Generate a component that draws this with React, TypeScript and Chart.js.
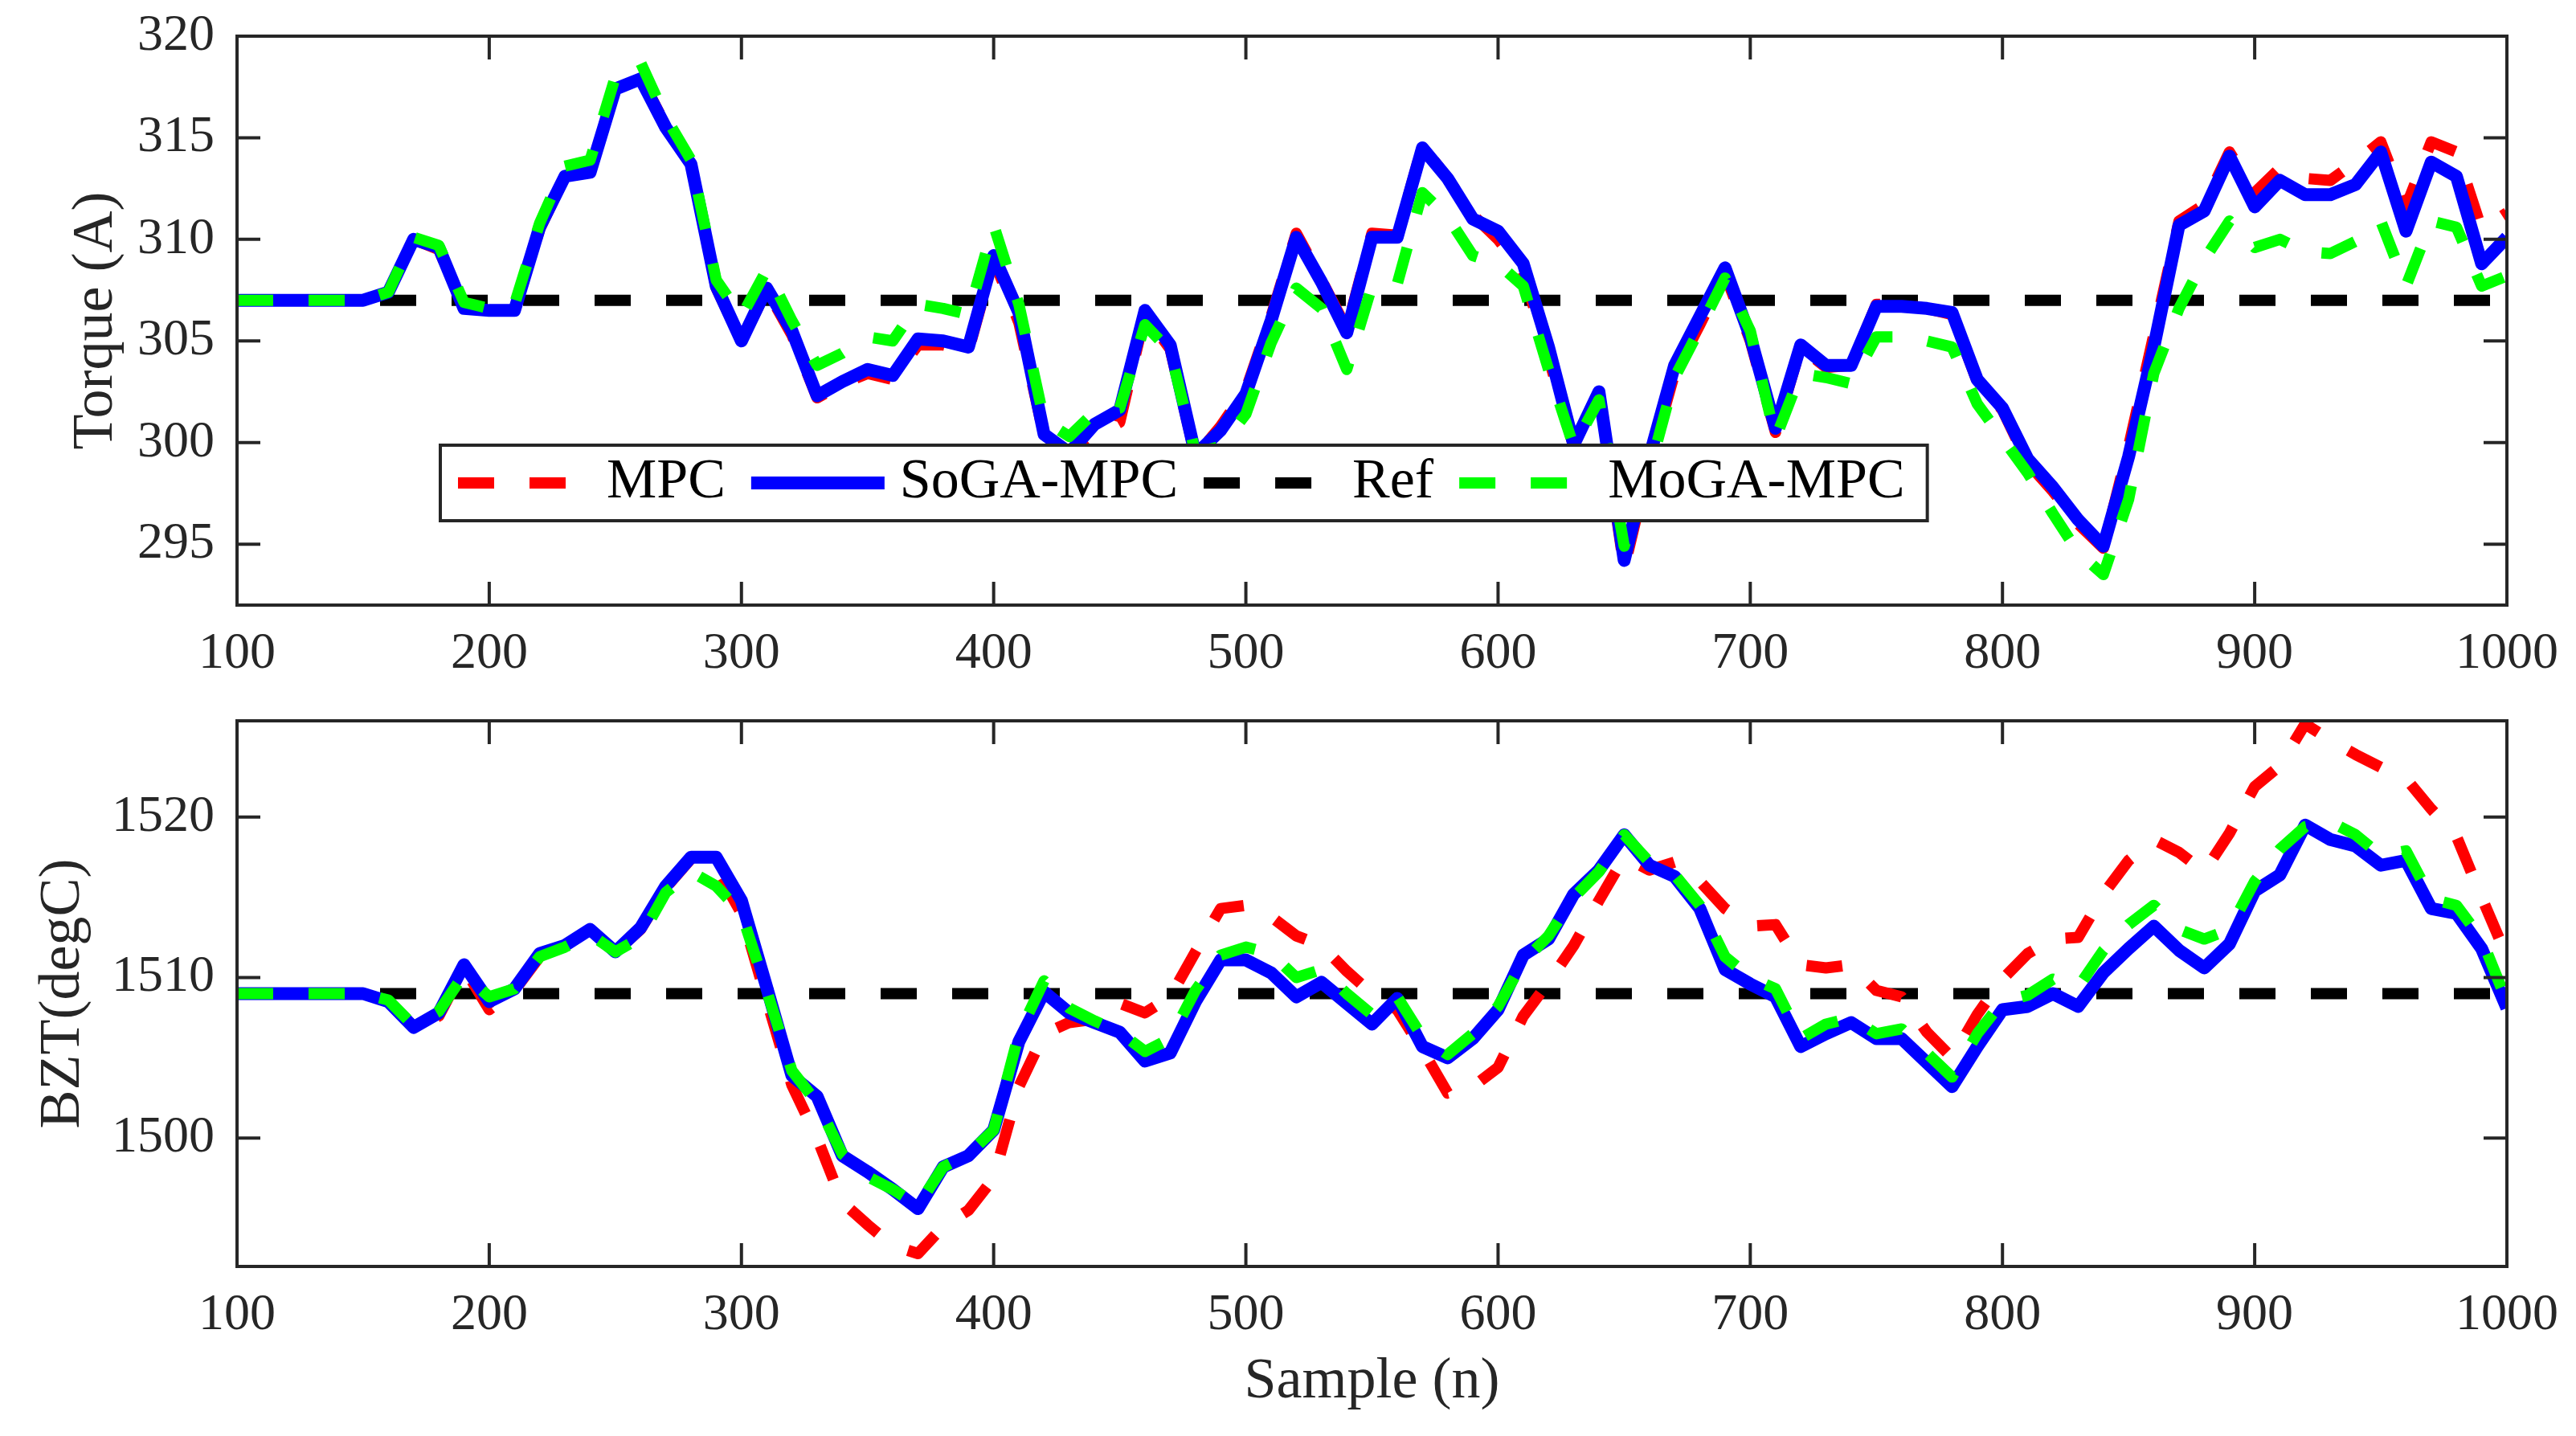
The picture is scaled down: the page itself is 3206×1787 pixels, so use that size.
import { useEffect, useRef } from "react";
import { Chart, registerables } from "chart.js";

Chart.register(...registerables);

// ---- data ----
const samples = [
  100, 110, 120, 130, 140, 150, 160, 170, 180, 190,
  200, 210, 220, 230, 240, 250, 260, 270, 280, 290,
  300, 310, 320, 330, 340, 350, 360, 370, 380, 390,
  400, 410, 420, 430, 440, 450, 460, 470, 480, 490,
  500, 510, 520, 530, 540, 550, 560, 570, 580, 590,
  600, 610, 620, 630, 640, 650, 660, 670, 680, 690,
  700, 710, 720, 730, 740, 750, 760, 770, 780, 790,
  800, 810, 820, 830, 840, 850, 860, 870, 880, 890,
  900, 910, 920, 930, 940, 950, 960, 970, 980, 990,
  1000,
];
const xTicks = [100, 200, 300, 400, 500, 600, 700, 800, 900, 1000];
const torqueTicks = [295, 300, 305, 310, 315, 320];
const bztTicks = [1500, 1510, 1520];

const refSamples = [100, 1000];
const torqueRef = [307, 307];
const bztRef = [1509, 1509];

const torqueMPC = [
  307, 307, 307, 307, 307, 307, 307.4, 310.0, 309.5, 306.6,
  306.5, 306.5, 310.5, 313.1, 313.3, 317.5, 318.0, 315.6, 313.7, 307.6,
  305.0, 307.5, 305.3, 302.2, 302.9, 303.4, 303.1, 304.8, 304.8, 304.5,
  309.0, 305.9, 300.3, 299.4, 300.3, 301.0, 306.3, 304.6, 299.3, 300.8,
  302.6, 306.2, 310.3, 308.0, 305.6, 310.3, 310.2, 314.6, 313.0, 311.2,
  310.0, 308.4, 304.2, 299.8, 302.3, 293.8, 299.0, 303.4, 305.8, 308.3,
  305.0, 300.5, 304.7, 303.7, 303.8, 306.8, 306.8, 306.6, 306.3, 303.0,
  301.6, 299.0, 297.6, 296.0, 294.8, 299.8, 305.3, 310.9, 311.7, 314.3,
  312.3, 313.5, 313.0, 312.9, 313.8, 314.8, 311.6, 314.8, 314.3, 310.5,
  311.3,
];
const torqueSoGA = [
  307, 307, 307, 307, 307, 307, 307.4, 310.0, 309.6, 306.6,
  306.5, 306.5, 310.6, 313.1, 313.3, 317.4, 317.9, 315.5, 313.7, 307.7,
  305.0, 307.6, 305.5, 302.3, 303.0, 303.6, 303.3, 305.1, 305.0, 304.7,
  309.2, 306.4, 300.4, 299.5, 300.9, 301.6, 306.5, 304.8, 299.4, 300.6,
  302.4, 306.0, 310.1, 307.9, 305.4, 310.1, 310.1, 314.5, 313.0, 311.0,
  310.4, 308.8, 304.7, 299.9, 302.5, 294.2, 299.3, 303.8, 306.2, 308.6,
  305.2, 300.7, 304.8, 303.8, 303.8, 306.7, 306.7, 306.6, 306.4, 303.1,
  301.7, 299.2, 297.8, 296.2, 294.9, 299.3, 304.7, 310.7, 311.4, 314.1,
  311.6, 312.9, 312.2, 312.2, 312.7, 314.3, 310.4, 313.8, 313.1, 308.8,
  310.1,
];
const torqueMoGA = [
  307, 307, 307, 307, 307, 307, 307.4, 310.1, 309.7, 306.9,
  306.6, 306.8, 310.8, 313.6, 313.9, 318.0, 318.7, 316.0, 313.9, 308.0,
  306.2, 308.5, 306.0, 303.8, 304.4, 305.2, 305.0, 306.8, 306.6, 306.3,
  310.7, 306.8, 301.1, 300.3, 301.5, 301.7, 305.8, 304.5, 299.5, 299.8,
  301.4, 304.9, 307.6, 306.6, 303.6, 307.7, 307.8, 312.3, 311.1, 309.2,
  308.8, 307.7, 303.6, 299.8, 302.1, 294.9, 298.6, 303.2, 305.6, 308.1,
  305.5, 300.2, 303.4, 303.2, 302.9, 305.2, 305.2, 305.0, 304.7, 301.9,
  300.2, 298.5, 296.5, 294.6, 293.5, 297.2, 303.4, 306.6, 309.0, 310.9,
  309.6, 310.0, 309.4, 309.3, 309.9, 310.9, 307.7, 310.9, 310.6, 307.7,
  308.2,
];

const bztMPC = [
  1509, 1509, 1509, 1509, 1509, 1509, 1508.5, 1506.9, 1507.6, 1510.6,
  1508.0, 1509.2, 1511.3, 1512.0, 1513.0, 1511.6, 1513.0, 1515.6, 1517.4, 1516.8,
  1514.0, 1508.6, 1503.3, 1500.0, 1496.0, 1494.6, 1493.3, 1492.8, 1494.5, 1495.5,
  1497.5, 1503.2, 1506.5, 1507.2, 1507.4, 1508.4, 1507.8, 1508.8, 1511.6, 1514.3,
  1514.5, 1513.8, 1512.6, 1512.0, 1510.4, 1509.0, 1508.0, 1505.5, 1502.8, 1503.2,
  1504.4, 1507.6, 1509.7, 1512.0, 1514.8, 1517.5, 1516.7, 1517.2, 1516.0, 1514.3,
  1513.2, 1513.3, 1510.8, 1510.6, 1510.8, 1509.2, 1508.8, 1506.6, 1505.0, 1507.7,
  1509.9, 1511.5, 1512.4, 1512.5, 1515.2, 1517.3, 1518.6, 1517.8, 1516.6, 1519.0,
  1521.9, 1523.2, 1525.8, 1524.8, 1523.9, 1523.1, 1522.4, 1520.5, 1518.8, 1515.0,
  1511.3,
];
const bztSoGA = [
  1509, 1509, 1509, 1509, 1509, 1509, 1508.5, 1506.9, 1507.8, 1510.8,
  1508.5, 1509.3, 1511.5, 1512.0, 1513.0, 1511.6, 1513.1, 1515.7, 1517.5, 1517.5,
  1514.8, 1509.4, 1503.9, 1502.6, 1498.9, 1497.9, 1496.8, 1495.6, 1498.2, 1498.9,
  1500.5, 1506.0, 1509.1, 1507.8, 1507.2, 1506.6, 1504.8, 1505.3, 1508.5, 1511.1,
  1511.1, 1510.3, 1508.8, 1509.7, 1508.4, 1507.1, 1508.7, 1505.7, 1505.0, 1506.2,
  1508.0, 1511.4, 1512.4, 1515.2, 1516.7, 1518.9, 1517.0, 1516.3, 1514.3, 1510.5,
  1509.6, 1508.8, 1505.7, 1506.5, 1507.2, 1506.2, 1506.2, 1504.7, 1503.2, 1505.7,
  1508.0, 1508.2, 1509.0, 1508.2, 1510.3, 1511.8, 1513.2, 1511.7, 1510.6, 1512.1,
  1515.4, 1516.4, 1519.5, 1518.6, 1518.2, 1517.0, 1517.3, 1514.3, 1514.0, 1511.8,
  1508.1,
];
const bztMoGA = [
  1509, 1509, 1509, 1509, 1509, 1509, 1508.6, 1507.0, 1507.9, 1510.2,
  1508.8, 1509.3, 1511.3, 1511.9, 1512.7, 1511.6, 1512.5, 1515.3, 1516.6, 1515.7,
  1514.0, 1509.2, 1504.2, 1502.2, 1499.0, 1497.6, 1496.8, 1495.8, 1498.2, 1499.0,
  1500.5, 1506.5, 1509.8, 1508.1, 1507.3, 1506.6, 1505.4, 1506.2, 1509.2, 1511.4,
  1511.9, 1511.5, 1510.0, 1510.5, 1509.0, 1507.7, 1508.8, 1506.3, 1505.2, 1506.5,
  1508.2, 1511.0, 1512.6, 1515.0, 1516.6, 1518.9, 1517.2, 1516.4, 1514.5, 1511.3,
  1510.0, 1509.3, 1506.2, 1507.1, 1507.5, 1506.5, 1506.8, 1505.3, 1503.8, 1506.5,
  1508.5, 1508.9, 1509.9, 1509.4, 1511.7, 1513.3, 1514.5, 1513.0, 1512.4, 1513.0,
  1516.0, 1518.0, 1519.4, 1519.7, 1518.9, 1517.6, 1517.9, 1514.9, 1514.5, 1512.4,
  1508.5,
];

const legendOrder = ["MPC", "SoGA-MPC", "Ref", "MoGA-MPC"];

// ---- styling ----
const W = 3206;
const TOP_H = 850;
const BOTTOM_H = 937;
const INK = "#262626";
const SERIF = '"Liberation Serif", "Times New Roman", serif';
const TICK_LEN = 29;

function lineSet(
  label: string,
  xs: number[],
  ys: number[],
  color: string,
  dashed: boolean,
  width: number
) {
  return {
    label,
    data: ys.map((y, i) => ({ x: xs[i], y })),
    borderColor: color,
    backgroundColor: color,
    borderWidth: width,
    borderDash: dashed ? [45, 44] : [],
    borderCapStyle: "butt" as const,
    borderJoinStyle: "round" as const,
    pointRadius: 0,
    pointHoverRadius: 0,
    tension: 0,
    fill: false,
  };
}

// first dataset is drawn on top
function datasets(mpc: number[], soga: number[], moga: number[], ref: number[]) {
  return [
    lineSet("MoGA-MPC", samples, moga, "#00FF00", true, 14),
    lineSet("SoGA-MPC", samples, soga, "#0000FF", false, 16),
    lineSet("MPC", samples, mpc, "#FF0000", true, 14),
    lineSet("Ref", refSamples, ref, "#000000", true, 14),
  ];
}

// box around the plot with inward ticks on all four sides
const framePlugin = {
  id: "frame",
  afterDatasetsDraw(chart: any) {
    const { ctx, chartArea: a, scales } = chart;
    ctx.save();
    ctx.setLineDash([]);
    ctx.strokeStyle = INK;
    ctx.lineWidth = 4;
    ctx.beginPath();
    for (const t of scales.x.ticks) {
      const px = scales.x.getPixelForValue(t.value);
      ctx.moveTo(px, a.bottom);
      ctx.lineTo(px, a.bottom - TICK_LEN);
      ctx.moveTo(px, a.top);
      ctx.lineTo(px, a.top + TICK_LEN);
    }
    for (const t of scales.y.ticks) {
      const py = scales.y.getPixelForValue(t.value);
      ctx.moveTo(a.left, py);
      ctx.lineTo(a.left + TICK_LEN, py);
      ctx.moveTo(a.right, py);
      ctx.lineTo(a.right - TICK_LEN, py);
    }
    ctx.stroke();
    ctx.strokeRect(a.left, a.top, a.right - a.left, a.bottom - a.top);
    ctx.restore();
  },
};

// boxed horizontal legend sitting inside the top plot
const boxLegendPlugin = {
  id: "boxLegend",
  afterDraw(chart: any) {
    const { ctx, chartArea: a } = chart;
    const left = a.left + 253;
    const top = a.top + 509;
    const h = 94;
    const sampleW = 166;
    ctx.save();
    ctx.font = `70px ${SERIF}`;
    const items = legendOrder.map((label) => ({
      label,
      ds: chart.data.datasets.find((d: any) => d.label === label),
      w: ctx.measureText(label).width,
    }));
    const width =
      22 + items.reduce((s, it) => s + sampleW + 19 + it.w, 0) + 32 * (items.length - 1) + 28;
    ctx.fillStyle = "#ffffff";
    ctx.fillRect(left, top, width, h);
    ctx.lineWidth = 4;
    ctx.strokeStyle = INK;
    ctx.strokeRect(left, top, width, h);
    const cy = top + h / 2;
    let x = left + 22;
    for (const it of items) {
      ctx.beginPath();
      ctx.setLineDash(it.ds.borderDash);
      ctx.lineCap = "butt";
      ctx.lineWidth = it.ds.borderWidth;
      ctx.strokeStyle = it.ds.borderColor;
      ctx.moveTo(x, cy);
      ctx.lineTo(x + sampleW, cy);
      ctx.stroke();
      ctx.setLineDash([]);
      x += sampleW + 19;
      ctx.fillStyle = "#000000";
      ctx.textAlign = "left";
      ctx.textBaseline = "middle";
      ctx.fillText(it.label, x, cy);
      x += it.w + 32;
    }
    ctx.restore();
  },
};

interface PanelCfg {
  yMin: number;
  yMax: number;
  yTicks: number[];
  yTitle: string;
  yTitlePad: number;
  xTitle?: string;
  xHeight: number;
  padTop: number;
}

function panelOptions(p: PanelCfg): any {
  const tickFont = { family: SERIF, size: 64 };
  const titleFont = { family: SERIF, size: 72 };
  return {
    responsive: false,
    animation: false,
    devicePixelRatio: 1,
    events: [],
    layout: { padding: { top: p.padTop, right: 86, bottom: 0, left: 0 } },
    plugins: { legend: { display: false }, tooltip: { enabled: false } },
    scales: {
      x: {
        type: "linear",
        min: 100,
        max: 1000,
        afterBuildTicks: (s: any) => {
          s.ticks = xTicks.map((value) => ({ value }));
        },
        afterFit: (s: any) => {
          s.height = p.xHeight;
          s.paddingLeft = 0;
          s.paddingRight = 0;
        },
        grid: { display: false, drawTicks: false },
        border: { display: false },
        ticks: {
          padding: 23,
          color: INK,
          font: tickFont,
          maxRotation: 0,
          autoSkip: false,
          callback: (v: any) => String(v),
        },
        title: p.xTitle
          ? {
              display: true,
              text: p.xTitle,
              color: INK,
              font: titleFont,
              padding: { top: 0, bottom: 24 },
            }
          : { display: false },
      },
      y: {
        type: "linear",
        min: p.yMin,
        max: p.yMax,
        afterBuildTicks: (s: any) => {
          s.ticks = p.yTicks.map((value) => ({ value }));
        },
        afterFit: (s: any) => {
          s.width = 295;
          s.paddingTop = 0;
          s.paddingBottom = 0;
        },
        grid: { display: false, drawTicks: false },
        border: { display: false },
        ticks: {
          padding: 28,
          color: INK,
          font: tickFont,
          autoSkip: false,
          callback: (v: any) => String(v),
        },
        title: {
          display: true,
          text: p.yTitle,
          color: INK,
          font: titleFont,
          padding: { top: p.yTitlePad, bottom: 0 },
        },
      },
    },
  };
}

export default function App() {
  const topRef = useRef<HTMLCanvasElement | null>(null);
  const bottomRef = useRef<HTMLCanvasElement | null>(null);

  useEffect(() => {
    if (!topRef.current || !bottomRef.current) return;

    const top = new Chart(topRef.current, {
      type: "line",
      data: { datasets: datasets(torqueMPC, torqueSoGA, torqueMoGA, torqueRef) as any },
      options: panelOptions({
        yMin: 292,
        yMax: 320,
        yTicks: torqueTicks,
        yTitle: "Torque (A)",
        yTitlePad: 77,
        xHeight: TOP_H - 753,
        padTop: 45,
      }),
      plugins: [framePlugin, boxLegendPlugin],
    });

    const bottom = new Chart(bottomRef.current, {
      type: "line",
      data: { datasets: datasets(bztMPC, bztSoGA, bztMoGA, bztRef) as any },
      options: panelOptions({
        yMin: 1492,
        yMax: 1526,
        yTicks: bztTicks,
        yTitle: "BZT(degC)",
        yTitlePad: 36,
        xTitle: "Sample (n)",
        xHeight: BOTTOM_H - 726,
        padTop: 47,
      }),
      plugins: [framePlugin],
    });

    return () => {
      top.destroy();
      bottom.destroy();
    };
  }, []);

  return (
    <div
      style={{
        position: "absolute",
        left: 0,
        top: 0,
        width: W,
        height: TOP_H + BOTTOM_H,
        background: "#ffffff",
      }}
    >
      <canvas
        ref={topRef}
        width={W}
        height={TOP_H}
        style={{ position: "absolute", left: 0, top: 0, width: W, height: TOP_H }}
      />
      <canvas
        ref={bottomRef}
        width={W}
        height={BOTTOM_H}
        style={{ position: "absolute", left: 0, top: TOP_H, width: W, height: BOTTOM_H }}
      />
    </div>
  );
}
